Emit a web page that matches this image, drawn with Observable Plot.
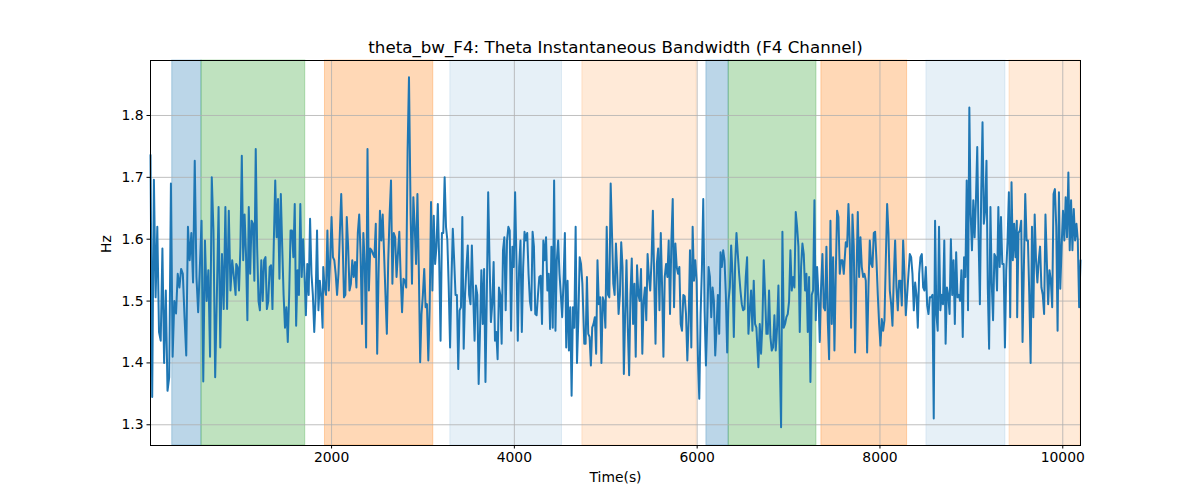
<!DOCTYPE html>
<html><head><meta charset="utf-8">
<script src="https://cdn.jsdelivr.net/npm/d3@7"></script>
<script src="https://cdn.jsdelivr.net/npm/@observablehq/plot@0.6"></script>
<style>body{margin:0;background:#fff;}</style>
</head><body><div id="chart"></div>
<script>
const chartTitle = "theta_bw_F4: Theta Instantaneous Bandwidth (F4 Channel)";
const xLabel = "Time(s)";
const yLabel = "Hz";
const xTicks = [2000, 4000, 6000, 8000, 10000];
const yTicks = [1.3, 1.4, 1.5, 1.6, 1.7, 1.8];

// shaded intervals (seconds) and their kind
const spanStart = [257, 577, 1928, 3299, 4744, 6101, 6345, 7359, 8508, 9417];
const spanEnd   = [577, 1712, 3113, 4521, 5995, 6345, 7305, 8297, 9373, 10194];
const spanKind  = ["A", "B", "C", "D", "E", "A", "B", "C", "D", "E"];

// the signal, read piece by piece (each piece spans segStart..segEnd seconds)
const segStart = [19, 957, 1909, 2865, 3802, 4765, 5718, 6670, 7626, 8574, 9501];
const segEnd   = [950, 1902, 2847, 3788, 4744, 5703, 6648, 7604, 8560, 9497, 10194];
const seg1 = [1.736,1.345,1.696,1.506,1.62,1.45,1.436,1.585,1.40,1.517,1.355,1.377,1.69,1.41,1.50,1.48,1.544,1.522,1.552,1.544,1.474,1.412,1.62,1.566,1.61,1.53,1.727,1.539,1.482,1.555,1.63,1.37,1.598,1.50,1.55,1.41,1.70,1.614,1.377,1.51,1.652,1.425,1.576,1.487,1.652,1.487,1.646,1.517,1.566,1.539,1.51];
const seg2 = [1.56,1.555,1.517,1.588,1.735,1.566,1.64,1.576,1.469,1.652,1.544,1.63,1.625,1.533,1.746,1.588,1.50,1.485,1.566,1.50,1.566,1.571,1.487,1.50,1.555,1.558,1.487,1.598,1.695,1.603,1.665,1.536,1.673,1.588,1.51,1.457,1.49,1.434,1.51,1.614,1.614,1.571,1.657,1.46,1.55,1.51,1.657,1.539,1.60,1.544,1.477,1.56,1.51,1.633,1.544,1.51,1.45,1.506,1.614,1.485,1.533,1.508,1.457];
const seg3 = [1.555,1.522,1.51,1.614,1.517,1.566,1.636,1.571,1.566,1.544,1.51,1.544,1.61,1.673,1.598,1.506,1.51,1.636,1.588,1.517,1.528,1.566,1.539,1.563,1.522,1.61,1.64,1.576,1.463,1.61,1.56,1.425,1.746,1.517,1.585,1.582,1.576,1.571,1.625,1.415,1.544,1.646,1.598,1.64,1.576,1.51,1.447,1.566,1.64,1.695,1.528,1.61,1.603,1.539,1.576,1.612,1.539,1.482,1.536,1.533,1.522,1.743,1.862];
const seg4 = [1.64,1.528,1.668,1.62,1.56,1.673,1.555,1.401,1.479,1.51,1.552,1.49,1.495,1.404,1.49,1.66,1.517,1.638,1.56,1.588,1.657,1.566,1.436,1.61,1.61,1.70,1.62,1.598,1.522,1.425,1.533,1.617,1.566,1.51,1.51,1.39,1.485,1.49,1.636,1.423,1.51,1.555,1.59,1.51,1.495,1.59,1.51,1.436,1.525,1.51,1.366,1.452,1.55,1.463,1.552,1.369,1.51,1.676,1.566,1.466,1.495,1.563,1.436];
const seg5 = [1.45,1.406,1.522,1.51,1.431,1.582,1.603,1.485,1.598,1.62,1.614,1.452,1.588,1.555,1.676,1.566,1.436,1.555,1.598,1.45,1.555,1.612,1.598,1.61,1.544,1.50,1.485,1.612,1.588,1.479,1.477,1.51,1.539,1.541,1.463,1.598,1.566,1.603,1.517,1.544,1.455,1.588,1.457,1.695,1.452,1.566,1.598,1.544,1.51,1.474,1.533,1.61,1.425,1.533,1.42,1.49,1.347,1.49,1.457,1.62,1.40,1.469,1.571,1.56,1.528];
const seg6 = [1.431,1.431,1.539,1.447,1.442,1.396,1.457,1.463,1.474,1.415,1.566,1.495,1.506,1.40,1.506,1.498,1.457,1.62,1.51,1.506,1.69,1.61,1.528,1.51,1.593,1.544,1.479,1.51,1.595,1.555,1.382,1.479,1.566,1.457,1.38,1.51,1.569,1.463,1.528,1.41,1.558,1.51,1.50,1.552,1.415,1.50,1.522,1.469,1.576,1.539,1.517,1.566,1.646,1.539,1.431,1.56,1.585,1.485,1.61,1.522,1.41,1.539,1.56,1.539,1.598,1.479];
const seg7 = [1.598,1.665,1.49,1.593,1.555,1.544,1.555,1.463,1.452,1.51,1.508,1.479,1.404,1.469,1.582,1.425,1.62,1.533,1.566,1.533,1.404,1.342,1.479,1.555,1.665,1.485,1.396,1.469,1.555,1.539,1.474,1.522,1.50,1.412,1.457,1.51,1.447,1.579,1.555,1.582,1.566,1.51,1.417,1.50,1.522,1.59,1.544,1.442,1.56,1.61,1.576,1.544,1.517,1.495,1.485,1.487,1.539,1.571,1.447,1.485,1.517,1.452,1.533,1.463,1.457];
const seg8 = [1.393,1.463,1.415,1.463,1.566,1.51,1.447,1.447,1.517,1.442,1.42,1.425,1.477,1.42,1.457,1.525,1.41,1.296,1.612,1.457,1.463,1.474,1.479,1.50,1.582,1.517,1.539,1.522,1.644,1.62,1.588,1.45,1.555,1.593,1.576,1.517,1.544,1.45,1.539,1.369,1.51,1.517,1.663,1.469,1.555,1.51,1.434,1.522,1.576,1.49,1.485,1.588,1.469,1.406,1.63,1.463,1.571,1.42,1.544,1.646,1.636,1.544,1.566,1.566,1.544];
const seg9 = [1.595,1.588,1.657,1.593,1.457,1.64,1.588,1.417,1.539,1.644,1.539,1.603,1.555,1.539,1.544,1.533,1.417,1.522,1.598,1.56,1.555,1.61,1.612,1.566,1.51,1.463,1.428,1.471,1.452,1.469,1.566,1.657,1.61,1.517,1.495,1.46,1.539,1.598,1.522,1.485,1.533,1.533,1.493,1.598,1.544,1.477,1.51,1.544,1.576,1.571,1.544,1.485,1.53,1.51,1.457,1.544,1.571,1.576,1.522,1.517,1.555,1.493,1.479,1.506,1.506];
const seg10 = [1.51,1.31,1.63,1.479,1.452,1.62,1.485,1.51,1.495,1.598,1.431,1.522,1.51,1.479,1.60,1.51,1.566,1.463,1.579,1.506,1.51,1.50,1.55,1.442,1.571,1.539,1.695,1.485,1.813,1.64,1.582,1.663,1.603,1.663,1.749,1.603,1.495,1.673,1.789,1.625,1.646,1.727,1.522,1.423,1.652,1.528,1.469,1.576,1.571,1.517,1.652,1.555,1.636,1.56,1.56,1.425,1.55,1.598,1.676,1.474,1.692,1.566,1.625,1.571,1.63];
const seg11 = [1.474,1.61,1.614,1.63,1.434,1.555,1.673,1.598,1.598,1.51,1.40,1.62,1.474,1.64,1.566,1.53,1.566,1.588,1.522,1.51,1.479,1.64,1.566,1.495,1.55,1.533,1.49,1.673,1.681,1.62,1.452,1.676,1.52,1.588,1.646,1.598,1.668,1.603,1.708,1.582,1.663,1.582,1.649,1.598,1.625,1.598,1.49,1.566];

const segments = [seg1, seg2, seg3, seg4, seg5, seg6, seg7, seg8, seg9, seg10, seg11];
const series = [];
segments.forEach((vals, k) => {
  const n = vals.length, a = segStart[k], b = segEnd[k];
  vals.forEach((v, i) => series.push({t: a + (b - a) * i / (n - 1), v}));
});
const spans = spanStart.map((s, i) => ({start: s, end: spanEnd[i], kind: spanKind[i]}));

const kindStyle = {
  A: {color: "#1f77b4", alpha: 0.3},
  B: {color: "#2ca02c", alpha: 0.3},
  C: {color: "#ff7f0e", alpha: 0.3},
  D: {color: "#1f77b4", alpha: 0.11},
  E: {color: "#ff7f0e", alpha: 0.16}
};

const spanMarks = Object.entries(kindStyle).map(([k, s]) =>
  Plot.rect(spans.filter(d => d.kind === k), {
    x1: "start", x2: "end",
    fill: s.color, fillOpacity: s.alpha,
    stroke: s.color, strokeOpacity: s.alpha, strokeWidth: 1
  })
);

const chart = Plot.plot({
  width: 1200, height: 500,
  marginTop: 60, marginRight: 120, marginBottom: 55, marginLeft: 150,
  style: {fontFamily: "DejaVu Sans", fontSize: "13.9px", background: "white", color: "black"},
  x: {domain: [19, 10194]},
  y: {domain: [1.2665, 1.8889]},
  marks: [
    ...spanMarks,
    Plot.gridX(xTicks, {stroke: "#b0b0b0", strokeOpacity: 1, strokeWidth: 0.8}),
    Plot.gridY(yTicks, {stroke: "#b0b0b0", strokeOpacity: 1, strokeWidth: 0.8}),
    Plot.line(series, {x: "t", y: "v", stroke: "#1f77b4", strokeWidth: 2}),
    Plot.frame({stroke: "black", strokeWidth: 1}),
    Plot.axisX(xTicks, {tickSize: 3.5, tickPadding: 3.5, label: null, tickFormat: d => String(d)}),
    Plot.axisY(yTicks, {tickSize: 3.5, tickPadding: 3.5, label: null, tickFormat: d => d.toFixed(1)}),
    Plot.text([chartTitle], {frameAnchor: "top", dy: -19, fontSize: 16.7}),
    Plot.text([xLabel], {frameAnchor: "bottom", dy: 36}),
    Plot.text([yLabel], {frameAnchor: "left", dx: -44, rotate: -90})
  ]
});
document.getElementById("chart").appendChild(chart);
</script>
</body></html>
